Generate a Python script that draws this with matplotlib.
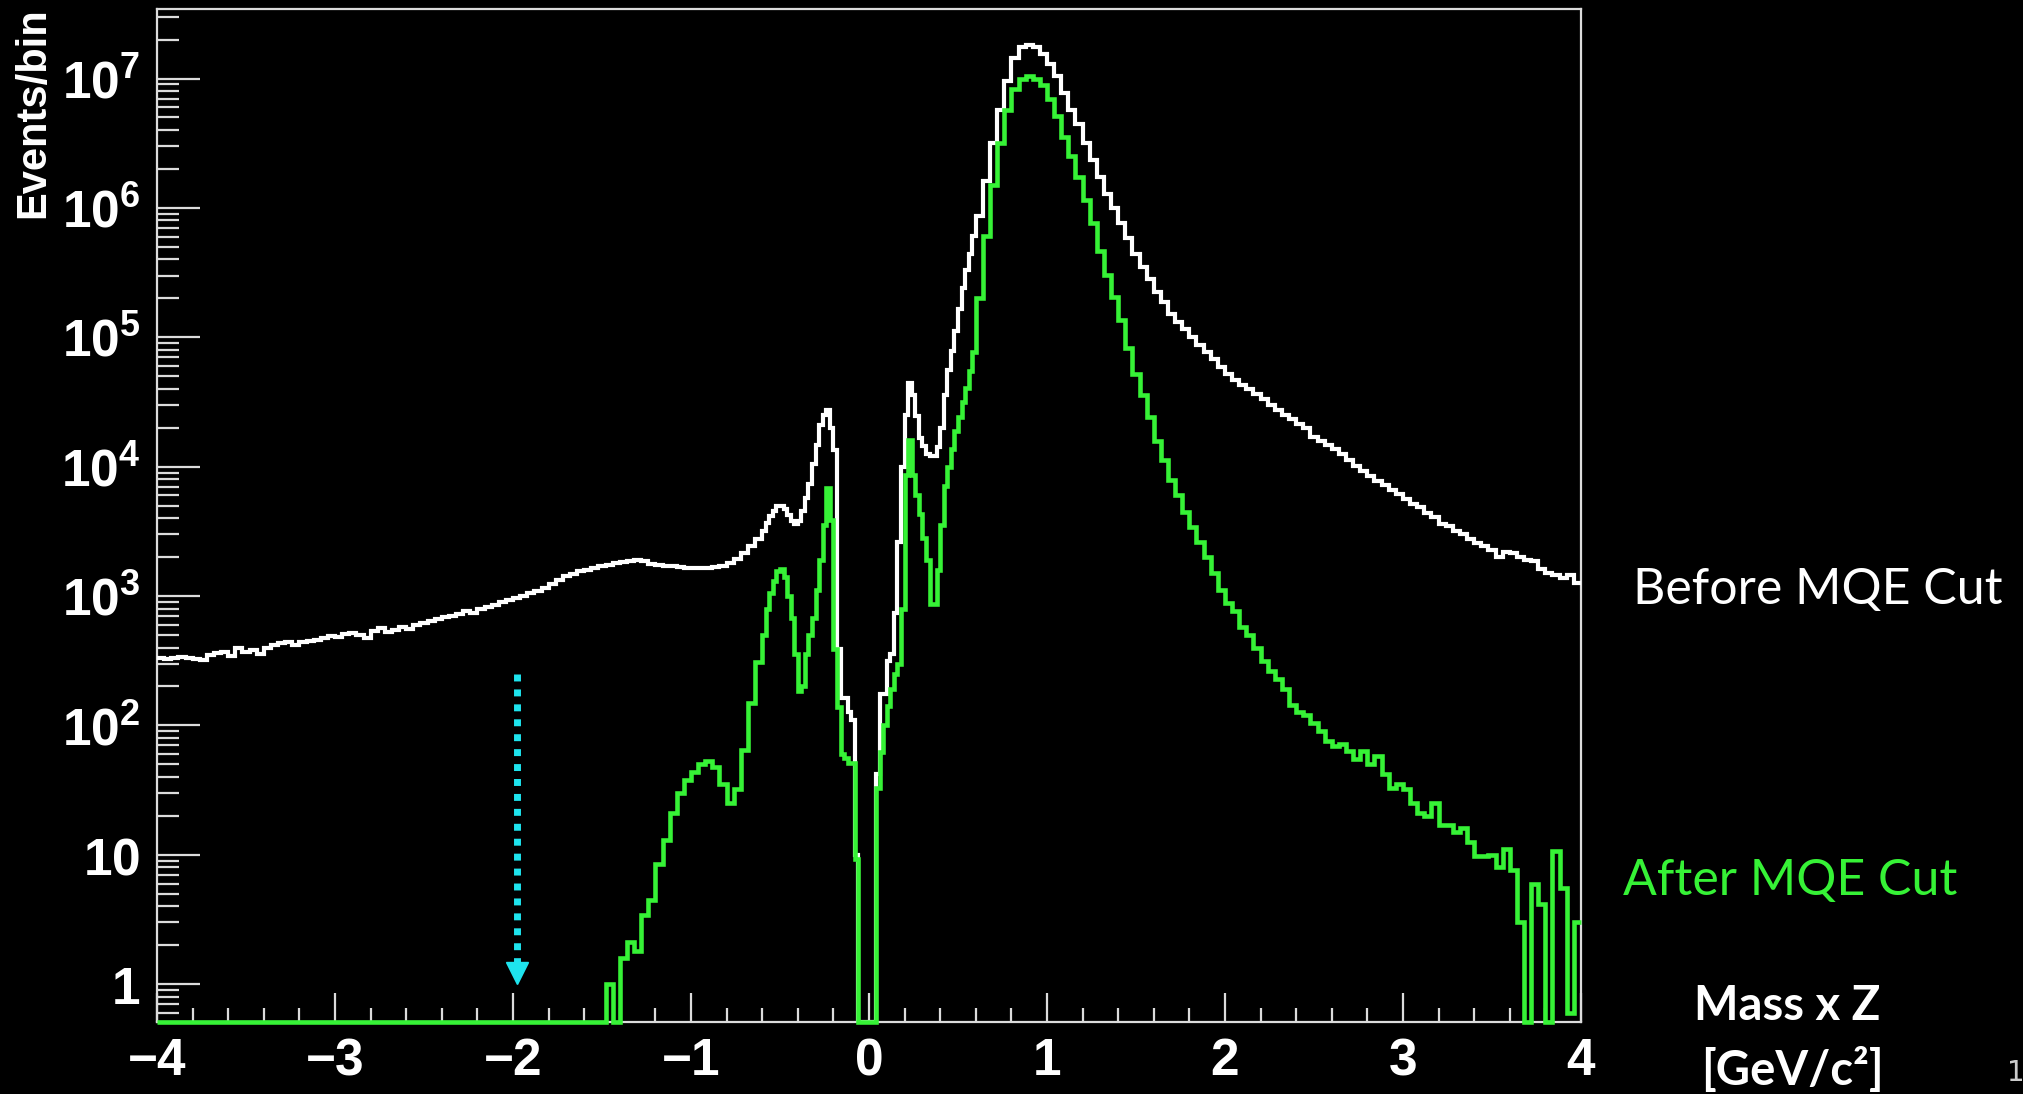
import matplotlib
matplotlib.use("Agg")
import matplotlib.pyplot as plt
import numpy as np
from matplotlib.ticker import LogLocator, MultipleLocator, NullFormatter

# bin edges: 0.04 wide outside the central region, 0.02 wide in [-0.6, 0.6]
edges = np.concatenate([np.linspace(-4.0, -0.6, 86),
                        np.linspace(-0.58, 0.6, 60),
                        np.linspace(0.64, 4.0, 85)])

# "Before MQE Cut" histogram (events per bin)
white_left = [
    330, 325, 335, 340, 335, 325, 320, 350, 365, 370,
    345, 395, 370, 385, 355, 400, 420, 430, 440, 415,
    445, 450, 455, 470, 490, 480, 505, 520, 500, 470,
    540, 565, 530, 550, 575, 560, 600, 620, 640, 665,
    690, 700, 730, 760, 745, 800, 820, 860, 905, 930,
    960, 1000, 1050, 1090, 1150, 1250, 1320, 1420, 1480, 1550,
    1590, 1650, 1700, 1740, 1800, 1820, 1850, 1900, 1860, 1780,
    1740, 1720, 1700, 1680, 1660, 1650, 1640, 1660, 1680, 1720,
    1800, 1950, 2150, 2450, 2750]
white_mid = [
    3160, 3700, 4170, 4570, 5000, 5000, 4700, 4200, 3800, 3630,
    3800, 4570, 5750, 7400, 10500, 14800, 20900, 25100, 27500, 20000,
    13500, 390, 162, 162, 126, 110, 10, 0, 0, 0,
    0, 0, 42, 174, 174, 316, 355, 741, 2630, 10000,
    25100, 44700, 35500, 24500, 16600, 14500, 12600, 12000, 12000, 14100,
    20000, 35500, 56000, 79000, 112000, 166000, 240000, 331000, 437000, 603000]
white_right = [
    871000, 1.62e6, 3.16e6, 5.75e6, 9.55e6, 1.45e7, 1.74e7, 1.82e7, 1.74e7, 1.55e7,
    1.29e7, 1.05e7, 7.76e6, 5.75e6, 4.47e6, 3.16e6, 2.34e6, 1.74e6, 1.29e6, 1.0e6,
    759000, 589000, 437000, 347000, 282000, 224000, 186000, 151000, 132000, 115000,
    100000, 87000, 77600, 67600, 58900, 52500, 46800, 42700, 39800, 36300,
    33100, 30200, 27500, 25100, 23400, 21400, 20000, 17000, 15800, 14800,
    13800, 12600, 11200, 10200, 9300, 8500, 7760, 7240, 6600, 6170,
    5620, 5130, 4900, 4370, 4070, 3630, 3470, 3160, 3020, 2750,
    2570, 2450, 2290, 2000, 2190, 2140, 2000, 1900, 1860, 1620,
    1510, 1450, 1380, 1450, 1260]

# "After MQE Cut" histogram (events per bin)
green_left = [0] * 63 + [
    1.0, 0, 1.6, 2.1, 1.8, 3.4, 4.5, 8.5, 13, 21,
    30, 38, 44, 50, 53, 48, 35, 25, 32, 65,
    150, 310]
green_mid = [
    500, 800, 1050, 1300, 1550, 1620, 1400, 1000, 680, 355,
    186, 200, 355, 500, 680, 1120, 1900, 3550, 6900, 3900,
    390, 138, 60, 56, 51, 51, 9.3, 0, 0, 0,
    0, 0, 33, 62, 100, 141, 190, 250, 300, 800,
    8700, 16200, 8700, 6000, 4270, 2800, 1900, 870, 870, 1580,
    3550, 7080, 10000, 13800, 19000, 24000, 31600, 40700, 55000, 77600]
green_right = [
    200000, 603000, 1.51e6, 3.16e6, 5.75e6, 8.3e6, 1.0e7, 1.05e7, 1.0e7, 8.9e6,
    6.9e6, 5.1e6, 3.55e6, 2.5e6, 1.74e6, 1.15e6, 759000, 468000, 302000, 204000,
    135000, 83000, 52500, 35500, 24000, 15800, 11200, 7940, 6000, 4470,
    3390, 2630, 2000, 1510, 1120, 890, 760, 575, 500, 400,
    316, 263, 229, 190, 145, 126, 120, 105, 91, 76,
    69, 72, 63, 55, 63, 50, 58, 42, 33, 35,
    32, 25, 21, 20, 25, 17, 17, 15, 16, 12.6,
    9.8, 9.8, 10, 8, 11, 7.6, 3, 0, 6, 4.2,
    0, 10.7, 5.5, 0.6, 3]

white = np.array(white_left + white_mid + white_right, dtype=float)
green = np.array(green_left + green_mid + green_right, dtype=float)

x_ticks = [-4, -3, -2, -1, 0, 1, 2, 3, 4]
y_ticks = [1, 10, 1e2, 1e3, 1e4, 1e5, 1e6, 1e7]
y_labels = ['1', '10', '10^{2}', '10^{3}', '10^{4}', '10^{5}', '10^{6}', '10^{7}']

# MQE cut marker
cut_x = -1.975
arrow_top = 250
arrow_head = 1.22

GREEN = '#36f236'
CYAN = '#1ee4ee'
FRAME = '#dcdcdc'

plt.rcParams['mathtext.fontset'] = 'custom'
plt.rcParams['mathtext.rm'] = 'Liberation Sans:bold'
plt.rcParams['mathtext.it'] = 'Liberation Sans:bold'
plt.rcParams['mathtext.bf'] = 'Liberation Sans:bold'
plt.rcParams['mathtext.default'] = 'rm'

fig = plt.figure(figsize=(20.24, 10.94), dpi=100, facecolor='black')
ax = fig.add_axes([0.0776, 0.0658, 0.7035, 0.926])
ax.set_facecolor('black')
ax.set_yscale('log')
ax.set_xlim(-4, 4)
ax.set_ylim(0.51, 3.45e7)
ymin = ax.get_ylim()[0]

ax.stairs(np.maximum(white, ymin), edges, baseline=None, color='white', lw=3.0, zorder=3)
ax.stairs(np.maximum(green, ymin), edges, baseline=None, color=GREEN, lw=3.3, zorder=4,
          clip_on=False)

# dotted cyan arrow
ax.plot([cut_x, cut_x], [arrow_top, 1.45], color=CYAN, lw=5, linestyle=(0, (1, 1.15)),
        dash_capstyle='butt', zorder=5)
ax.plot(cut_x, arrow_head, marker='v', ms=16, color=CYAN, mec=CYAN, zorder=5)

for s in ax.spines.values():
    s.set_color(FRAME)
    s.set_linewidth(1.6)

ax.set_xticks(x_ticks)
ax.xaxis.set_minor_locator(MultipleLocator(0.2))
ax.set_yticks(y_ticks)
ax.set_yticklabels(['$' + l + '$' for l in y_labels])
ax.yaxis.set_minor_locator(LogLocator(base=10, subs=np.arange(2, 10), numticks=20))
ax.yaxis.set_minor_formatter(NullFormatter())

ax.tick_params(axis='both', which='both', direction='in', color=FRAME, width=1.6,
               labelcolor='white', top=False, right=False)
ax.tick_params(axis='x', which='major', length=21, pad=11, labelsize=37)
ax.tick_params(axis='x', which='minor', length=10)
ax.tick_params(axis='y', which='major', length=31, pad=12, labelsize=37)
ax.tick_params(axis='y', which='minor', length=16)
for lab in ax.get_xticklabels():
    lab.set_fontfamily('Liberation Sans')
    lab.set_fontweight('bold')

fig.text(0.0163, 0.9936, 'Events/bin', rotation=90, ha='center', va='top', fontsize=30,
         fontweight='bold', family='Liberation Sans', color='white')

fig.text(0.8068, 0.4611, 'Before MQE Cut', ha='left', va='center', fontsize=36,
         family='Lato', color='white')
fig.text(0.8019, 0.1947, 'After MQE Cut', ha='left', va='center', fontsize=36,
         family='Lato', color=GREEN)
fig.text(0.883, 0.0804, 'Mass x Z', ha='center', va='center', fontsize=34,
         family='Lato', fontweight='bold', color='white')
fig.text(0.8854, 0.0219, '[GeV/c²]', ha='center', va='center', fontsize=34,
         family='Lato', fontweight='bold', color='white')
fig.text(0.9916, 0.0192, '11', ha='left', va='center', fontsize=20,
         family='DejaVu Sans', color='#cccccc')

fig.savefig('out.png', dpi=100, facecolor='black')
